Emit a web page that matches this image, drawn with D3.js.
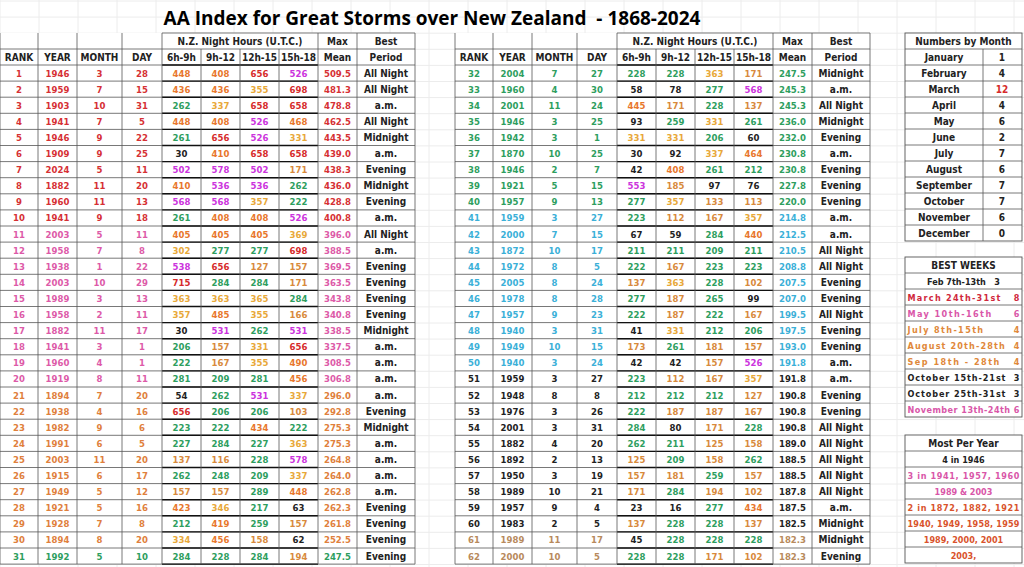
<!DOCTYPE html>
<html lang="en">
<meta charset="utf-8">
<head>
<script src="https://d3js.org/d3.v7.min.js"></script>
<style>
  body { margin: 0; background: #fff; }
  text { font-family: "DejaVu Sans Condensed", "DejaVu Sans", sans-serif; font-weight: bold; white-space: pre; }
</style>
</head>
<body>
<script>
// data
var ranks = d3.range(1, 63)
var years = [1946,1959,1903,1941,1946,1909,2024,1882,1960,1941,2003,1958,1938,2003,1989,1958,1882,1941,1960,1919,1894,1938,1982,1991,2003,1915,1949,1921,1928,1894,1992,
             2004,1960,2001,1946,1942,1870,1946,1921,1957,1959,2000,1872,1972,2005,1978,1957,1940,1949,1940,1959,1948,1976,2001,1882,1892,1950,1989,1957,1983,1989,2000]
var months = [3,7,10,7,9,9,5,11,11,9,5,7,1,10,3,2,11,3,4,8,7,4,9,6,11,6,5,5,7,8,5,
              7,4,11,3,3,10,2,5,9,3,7,10,8,8,8,9,3,10,3,3,8,3,3,4,2,3,10,9,2,11,10]
var days = [28,15,31,5,22,25,11,20,13,18,11,8,22,29,13,11,17,1,1,11,20,16,6,5,20,17,12,16,8,20,10,
            27,30,24,25,1,25,7,15,13,27,15,17,5,24,28,23,31,15,24,27,8,26,31,20,13,19,21,4,5,17,5]
var h6_9 = [448,436,262,448,261,30,502,410,568,261,405,302,538,715,363,357,30,206,222,281,54,656,223,227,137,262,157,423,212,334,284,
            228,58,445,93,331,30,42,553,277,223,67,211,222,137,277,222,41,173,42,223,212,222,284,262,125,157,171,23,137,45,228]
var h9_12 = [408,436,337,408,656,410,578,536,568,408,405,277,656,284,363,485,531,157,167,209,262,206,222,284,116,248,157,346,419,456,228,
             228,78,171,259,331,92,408,185,357,112,59,211,167,363,187,187,331,261,42,112,212,187,80,211,209,181,284,16,228,228,228]
var h12_15 = [656,355,658,526,526,658,502,536,357,408,405,277,127,284,365,355,262,331,355,281,531,206,434,227,228,209,289,217,259,158,284,
              363,277,228,331,206,337,261,97,133,167,284,209,223,228,265,222,212,181,157,167,212,187,171,125,158,259,194,277,228,228,171]
var h15_18 = [526,698,658,468,331,658,171,262,222,526,369,698,157,171,284,166,531,656,490,456,337,103,222,363,578,337,448,63,157,62,194,
              171,568,137,261,60,464,212,76,113,357,440,211,223,102,99,167,206,157,526,357,127,167,228,158,262,157,102,434,137,228,102]
var means = [509.5,481.3,478.8,462.5,443.5,439.0,438.3,436.0,428.8,400.8,396.0,388.5,369.5,363.5,343.8,340.8,338.5,337.5,308.5,306.8,296.0,292.8,275.3,275.3,264.8,264.0,262.8,262.3,261.8,252.5,247.5,
             247.5,245.3,245.3,236.0,232.0,230.8,230.8,227.8,220.0,214.8,212.5,210.5,208.8,207.5,207.0,199.5,197.5,193.0,191.8,191.8,190.8,190.8,190.8,189.0,188.5,188.5,187.8,187.5,182.5,182.3,182.3]
var periods = ["All Night","All Night","a.m.","All Night","Midnight","a.m.","Evening","Midnight","Evening","a.m.","All Night","a.m.","Evening","Evening","Evening","Evening","Midnight","a.m.","a.m.","a.m.","a.m.","Evening","Midnight","a.m.","a.m.","a.m.","a.m.","Evening","Evening","Evening","Evening",
               "Midnight","a.m.","All Night","Midnight","Evening","a.m.","Evening","Evening","Evening","a.m.","a.m.","All Night","All Night","Evening","Evening","All Night","Evening","Evening","a.m.","a.m.","Evening","Evening","All Night","All Night","All Night","All Night","All Night","a.m.","Midnight","Midnight","Evening"]

var monthNames = ["January","February","March","April","May","June","July","August","September","October","November","December"]
var monthCounts = [1,4,12,4,6,2,7,6,7,7,6,0]
var bestWeeks = ["Feb 7th-13th   3","March 24th-31st   8","May 10th-16th     6","July 8th-15th       4","August 20th-28th  4","Sep 18th - 28th   4","October 15th-21st  3","October 25th-31st  3","November 13th-24th 6"]
var bestWeekColors = ["#222","#d0283c","#d956a8","#e0883a","#e0883a","#e0883a","#222","#222","#d956a8"]
var perYear = ["4 in 1946","3 in 1941, 1957, 1960","1989 & 2003","2 in 1872, 1882, 1921","1940, 1949, 1958, 1959","1989, 2000, 2001","2003,"]
var perYearColors = ["#222","#d956a8","#d956a8","#d9532c","#d9532c","#d9532c","#d9532c"]

var svg = d3.select("body").append("svg").attr("width", 1024).attr("height", 567)

// spreadsheet grid in background
svg.append("g").selectAll("line").data(d3.range(0, 1024, 39)).join("line")
  .attr("x1", d => d).attr("x2", d => d).attr("y1", 0).attr("y2", 567)
  .attr("stroke", "#ececec")
svg.append("g").selectAll("line").data(d3.range(1, 567, 16.1)).join("line")
  .attr("y1", d => d).attr("y2", d => d).attr("x1", 0).attr("x2", 1024)
  .attr("stroke", "#ececec")

svg.append("text").attr("x", 432).attr("y", 25).attr("text-anchor", "middle")
  .style("font-size", "19px").style("font-family", "'Open Sans', sans-serif").style("font-weight", "bold")
  .text("AA Index for Great Storms over New Zealand  - 1868-2024")

function rankColor(r) {
  if (r <= 10) return "#d63034"
  if (r <= 20) return "#dd5aa8"
  if (r <= 30) return "#e0803c"
  if (r <= 40) return "#2e9e5e"
  if (r <= 50) return "#3bb0d8"
  if (r <= 60) return "#222"
  return "#b88a5c"
}
function valColor(v) {
  if (v < 100) return "#222"
  if (v < 200) return "#d88a3c"
  if (v < 300) return "#2e9e5e"
  if (v < 400) return "#e8a838"
  if (v < 500) return "#e8772c"
  if (v < 600) return "#cc33dd"
  return "#d62b2b"
}

var rowsY = d3.scaleLinear().domain([0, 31]).range([65, 65 + 31 * 16.1])
var edges = [0, 38, 77, 122, 162, 201, 240, 279, 318, 357, 415]
var headers = ["RANK","YEAR","MONTH","DAY","6h-9h","9h-12","12h-15","15h-18","Mean","Period"]

function drawTable(x0, part) {
  var g = svg.append("g").attr("transform", "translate(" + x0 + ",0)")
  var x = d => edges[d]
  var w = edges[10]
  g.append("rect").attr("x", 0).attr("y", 33).attr("width", w).attr("height", rowsY(31) - 33).attr("fill", "#fff")
  // header
  g.append("text").attr("x", (x(4) + x(8)) / 2).attr("y", 45).attr("text-anchor", "middle").style("font-size", "10px").attr("fill", "#222").text("N.Z. Night Hours (U.T.C.)")
  g.append("text").attr("x", (x(8) + x(9)) / 2).attr("y", 45).attr("text-anchor", "middle").style("font-size", "10px").attr("fill", "#222").text("Max")
  g.append("text").attr("x", (x(9) + x(10)) / 2).attr("y", 45).attr("text-anchor", "middle").style("font-size", "10px").attr("fill", "#222").text("Best")
  g.selectAll(".hd").data(headers).join("text")
    .attr("x", (d, i) => (x(i) + x(i + 1)) / 2).attr("y", 61).attr("text-anchor", "middle")
    .style("font-size", "10px").attr("fill", "#222").text(d => d)

  var idx = d3.range(part * 31, part * 31 + 31)
  idx.forEach(function(k, r) {
    var cy = rowsY(r) + 11.5
    var rc = rankColor(ranks[k])
    var cells = [
      [ranks[k], rc], [years[k], rc], [months[k], rc], [days[k], rc],
      [h6_9[k], valColor(h6_9[k])], [h9_12[k], valColor(h9_12[k])],
      [h12_15[k], valColor(h12_15[k])], [h15_18[k], valColor(h15_18[k])],
      [means[k].toFixed(1), rc], [periods[k], "#222"]
    ]
    g.selectAll(null).data(cells).join("text")
      .attr("x", (d, i) => (x(i) + x(i + 1)) / 2).attr("y", cy)
      .attr("text-anchor", "middle").style("font-size", (d, i) => i == 9 ? "10px" : "9.5px")
      .attr("fill", d => d[1]).text(d => d[0])
  })

  // borders
  var hl = [33, 49].concat(d3.range(0, 32).map(rowsY))
  g.selectAll(".h").data(hl).join("line")
    .attr("x1", (d, i) => i == 0 ? x(4) : 0).attr("x2", w).attr("y1", d => d).attr("y2", d => d)
    .attr("stroke", "#555").attr("stroke-width", 0.8)
  g.selectAll(".hb").data(d3.range(0, 32).map(rowsY)).join("line")
    .attr("x1", x(4)).attr("x2", x(8)).attr("y1", d => d).attr("y2", d => d)
    .attr("stroke", "#111").attr("stroke-width", 1.4)
  g.selectAll(".v").data(d3.range(0, 11)).join("line")
    .attr("x1", x).attr("x2", x)
    .attr("y1", d => (d > 4 && d < 8) ? 49 : 33).attr("y2", rowsY(31))
    .attr("stroke", "#555").attr("stroke-width", 0.8)
}
drawTable(0, 0)
drawTable(455, 1)

// side panels
var side = svg.append("g")
function box(top, rows, colors, twoCol) {
  var n = rows.length
  var yb = d3.scaleLinear().domain([0, n]).range([top, top + n * 16])
  side.append("rect").attr("x", 905).attr("y", top).attr("width", 117).attr("height", n * 16)
    .attr("fill", "#fff").attr("stroke", "#555").attr("stroke-width", 0.9)
  side.selectAll(null).data(d3.range(1, n)).join("line")
    .attr("x1", 905).attr("x2", 1022).attr("y1", yb).attr("y2", yb).attr("stroke", "#555").attr("stroke-width", 0.8)
  if (twoCol) {
    side.append("line").attr("x1", 983).attr("x2", 983).attr("y1", yb(1)).attr("y2", yb(n)).attr("stroke", "#555").attr("stroke-width", 0.8)
  }
  rows.forEach(function(r, i) {
    var cy = yb(i) + 11.5
    if (twoCol && i > 0) {
      side.append("text").attr("x", 944).attr("y", cy).attr("text-anchor", "middle").style("font-size", "10px").attr("fill", "#222").text(r[0])
      side.append("text").attr("x", 1002).attr("y", cy).attr("text-anchor", "middle").style("font-size", "10px")
        .attr("fill", r[1] >= 10 ? "#d62b2b" : "#222").text(r[1])
    } else {
      side.append("text").attr("x", 963.5).attr("y", cy).attr("text-anchor", "middle")
        .style("font-size", i == 0 ? "10px" : "9px").attr("textLength", r.length > 18 ? 112 : null)
        .attr("fill", colors[i]).text(r)
    }
  })
}
box(33, ["Numbers by Month"].concat(monthNames.map((m, i) => [m, monthCounts[i]])), ["#222"], true)
box(257, ["BEST WEEKS"].concat(bestWeeks), ["#222"].concat(bestWeekColors), false)
box(435, ["Most Per Year"].concat(perYear), ["#222"].concat(perYearColors), false)
</script>
</body>
</html>
